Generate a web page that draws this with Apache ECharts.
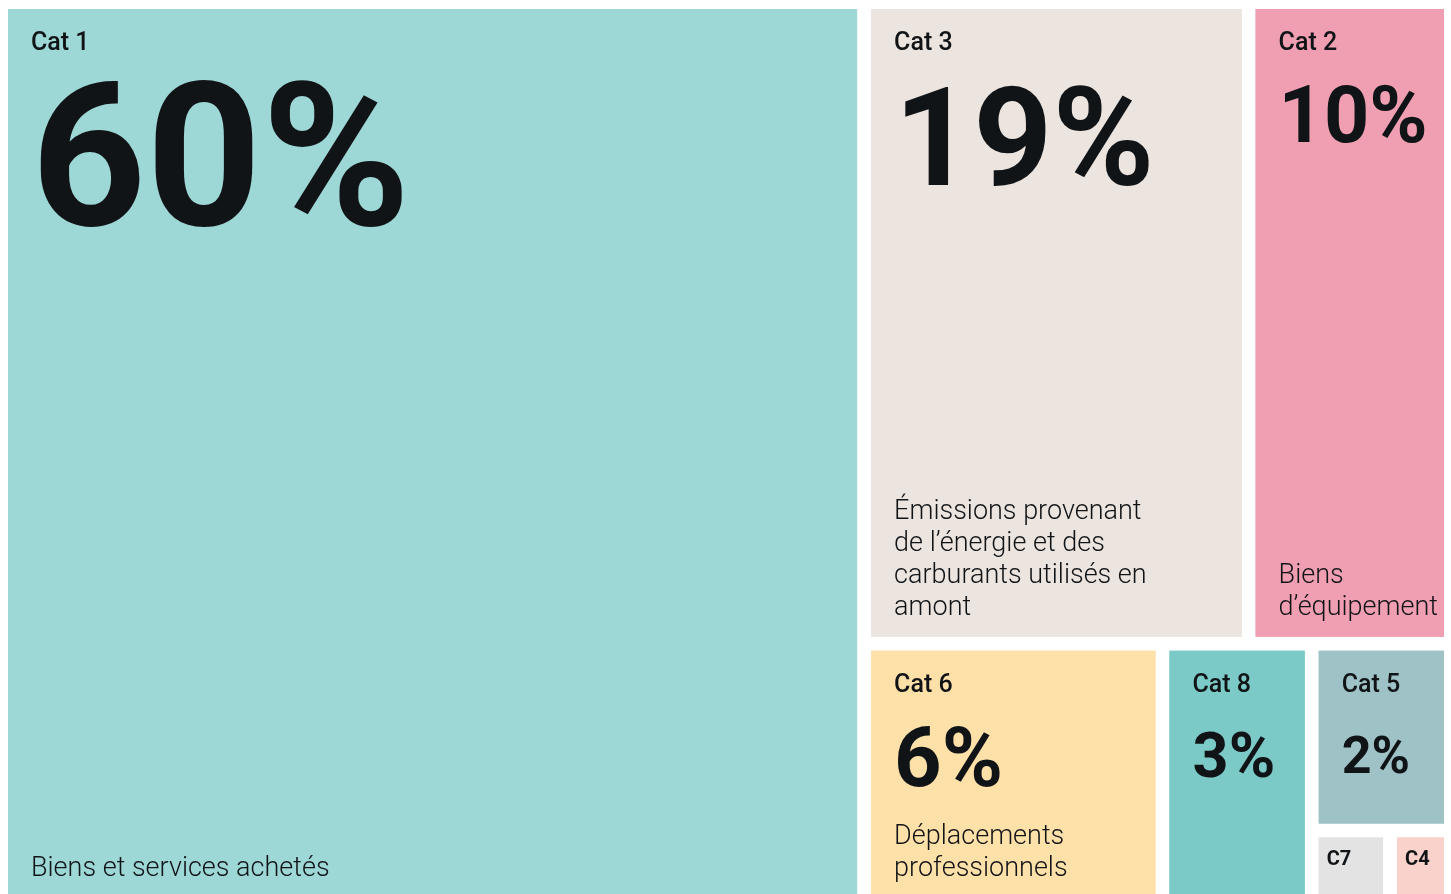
<!DOCTYPE html>
<html>
<head>
<meta charset="utf-8">
<title>Scope 3</title>
<script src="https://cdn.jsdelivr.net/npm/echarts@6/dist/echarts.min.js"></script>
<style>
  html, body { margin: 0; padding: 0; background: #fff; }
  #chart { width: 1451px; height: 894px; }
</style>
</head>
<body>
<div id="chart"></div>
<script>
// data, in reading order of the cells
var names = ['Cat 1', 'Cat 3', 'Cat 2', 'Cat 6', 'Cat 8', 'Cat 5', 'C7', 'C4'];
var shares = [60, 19, 10, 6, 3, 2, 0.45, 0.35];
var shareLabels = ['60%', '19%', '10%', '6%', '3%', '2%', '', ''];
var descriptions = [
  'Biens et services achetés',
  'Émissions provenant\nde l’énergie et des\ncarburants utilisés en\namont',
  'Biens\nd’équipement',
  'Déplacements\nprofessionnels',
  '', '', '', ''
];

// how the cells are nested (indexes into the arrays above), so the
// squarified layout puts each block where it is on the original
var nesting = [0, [[1, 2], [[3, 4], [5, [6, 7]]]]];

// styles
var colors = ['#9dd7d6', '#ece4df', '#ef9fb1', '#fee0a9', '#7ccac7', '#9ec2c5', '#e2e3e2', '#f9d2cc'];
var pctSizes = [201, 138, 79, 83, 63, 52, 0, 0];
var pctLines = [232, 183, 127, 129, 120, 119, 0, 0];
var TEXT = '#111417';
var FONT = 'Roboto, "Noto Sans", sans-serif';
var CLEAR = 'rgba(0,0,0,0)';

function catStyle() {
  return { fontFamily: FONT, fontSize: 25, fontWeight: 500, lineHeight: 30, color: TEXT };
}

// cells with the category name and the big percentage
function topNode(n) {
  if (Array.isArray(n)) {
    return { name: '', children: n.map(topNode), itemStyle: { borderColor: '#fff' } };
  }
  var item = { name: names[n], value: shares[n], itemStyle: { color: colors[n], borderColor: colors[n] } };
  if (!shareLabels[n]) {
    item.label = {
      padding: [11, 0, 0, 8],
      formatter: '{sm|' + names[n] + '}',
      rich: { sm: { fontFamily: FONT, fontSize: 20, fontWeight: 700, lineHeight: 24, color: TEXT } }
    };
  } else {
    item.label = {
      formatter: '{cat|' + names[n] + '}\n{pct|' + shareLabels[n] + '}',
      rich: {
        cat: catStyle(),
        pct: { fontFamily: FONT, fontSize: pctSizes[n], fontWeight: 700, lineHeight: pctLines[n], color: TEXT }
      }
    };
  }
  return item;
}

// same cells again, transparent, only carrying the description at the bottom
function descNode(n) {
  if (Array.isArray(n)) {
    return { name: '', children: n.map(descNode), itemStyle: { color: CLEAR, borderColor: CLEAR } };
  }
  return {
    name: names[n], value: shares[n],
    itemStyle: { color: CLEAR, borderColor: CLEAR },
    label: { show: !!descriptions[n], formatter: descriptions[n] || ' ' }
  };
}

var base = {
  type: 'treemap',
  left: 8, top: 9, right: 7, bottom: -4,
  roam: false,
  nodeClick: false,
  silent: true,
  animation: false,
  breadcrumb: { show: false },
  upperLabel: { show: false },
  itemStyle: { gapWidth: 14, borderWidth: 0 }
};

var option = {
  backgroundColor: '#fff',
  animation: false,
  series: [
    Object.assign({}, base, {
      label: { show: true, position: 'insideTopLeft', distance: 0, padding: [20, 0, 0, 23], overflow: 'none' },
      data: nesting.map(topNode)
    }),
    Object.assign({}, base, {
      itemStyle: { gapWidth: 14, borderWidth: 0, color: CLEAR, borderColor: CLEAR },
      label: {
        show: true, position: 'insideTopLeft', distance: 0, padding: 0, overflow: 'none',
        fontFamily: FONT, fontSize: 27, fontWeight: 300, lineHeight: 32, color: TEXT
      },
      labelLayout: function (p) {
        var lines = p.text ? String(p.text).split('\n').length : 0;
        return {
          x: p.rect.x + 23,
          y: p.rect.y + p.rect.height - lines * 32 - 13,
          align: 'left',
          verticalAlign: 'top'
        };
      },
      data: nesting.map(descNode)
    })
  ]
};

var chart = echarts.init(document.getElementById('chart'));
chart.setOption(option);
</script>
</body>
</html>
